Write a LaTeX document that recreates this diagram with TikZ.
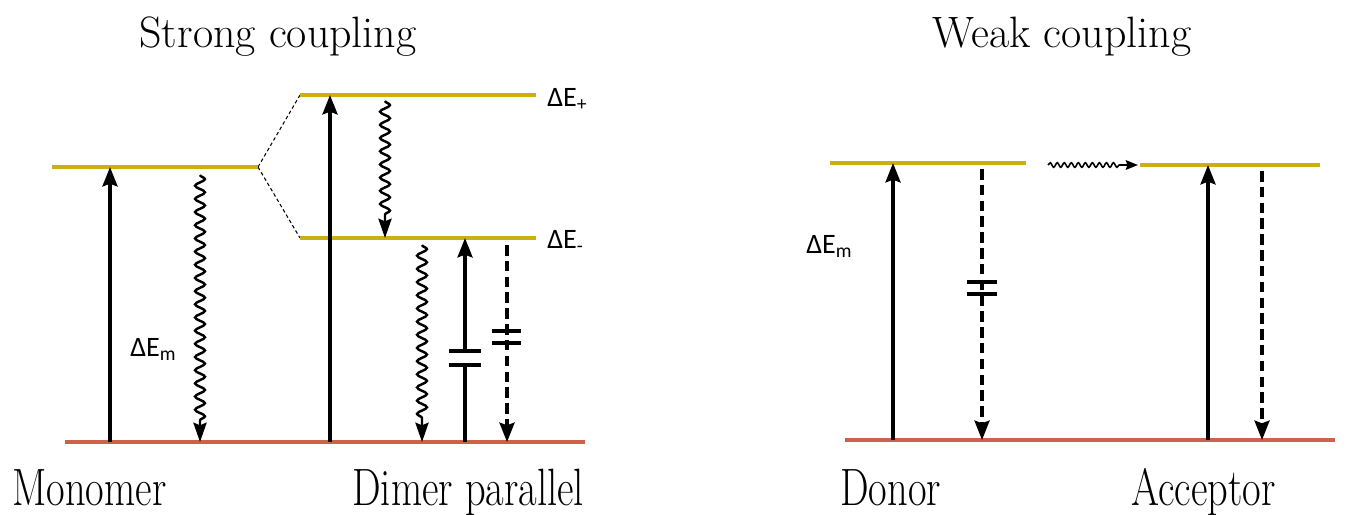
\documentclass[tikz,border=0pt]{standalone}
\usepackage{fontspec}
\newfontfamily\deltafont{Carlito}
\usetikzlibrary{arrows.meta, decorations.pathmorphing}

\definecolor{levelgold}{RGB}{204,176,18}
\definecolor{groundred}{RGB}{206,96,76}
\newcommand{\tallname}[1]{\scalebox{1}[1.3]{#1}}

\tikzset{
  level/.style={levelgold, line width=2.6pt},
  ground/.style={groundred, line width=2.6pt},
  absorb/.style={line width=2pt, -{Stealth[length=11pt, width=8.5pt, inset=1.5pt]}},
  relax/.style={line width=1.4pt, -{Stealth[length=11pt, width=7.5pt, inset=1.5pt]},
    decorate, decoration={snake, segment length=7.5pt, amplitude=2.8pt, post length=11pt}},
  transfer/.style={line width=0.9pt, -{Stealth[length=7pt, width=5.5pt, inset=1pt]},
    decorate, decoration={snake, segment length=4pt, amplitude=1.3pt, post length=9pt}},
  emit/.style={line width=2pt, dash pattern=on 6pt off 3pt, -{Stealth[length=11pt, width=8.5pt, inset=1.5pt]}},
  split/.style={line width=0.6pt, dash pattern=on 2pt off 1.5pt},
  forbid/.style={line width=2.6pt},
  heading/.style={font=\fontsize{25}{30}\selectfont, anchor=base},
  molname/.style={font=\fontsize{23}{28}\selectfont, anchor=base west, inner sep=0pt},
  delta/.style={font=\deltafont\fontsize{16}{18}\selectfont, anchor=base west, inner sep=0pt}
}

\begin{document}
\begin{tikzpicture}[x=0.02cm, y=-0.02cm]
  \useasboundingbox (0,0) rectangle (1345,514);

  %titles
  \node[heading] (strong) at (278,47) {Strong coupling};
  \node[heading] (weak) at (1062,47) {Weak coupling};

  %levels
  \coordinate (mono-l) at (52,167);   \coordinate (mono-r) at (258,167);
  \coordinate (plus-l) at (300,95);   \coordinate (plus-r) at (536,95);
  \coordinate (minus-l) at (300,238); \coordinate (minus-r) at (536,238);
  \coordinate (don-l) at (830,163);   \coordinate (don-r) at (1026,163);
  \coordinate (acc-l) at (1140,165);  \coordinate (acc-r) at (1320,165);
  \coordinate (gs1-l) at (65,442);    \coordinate (gs1-r) at (585,442);
  \coordinate (gs2-l) at (845,440);   \coordinate (gs2-r) at (1335,440);

  \draw[split] (mono-r) -- (plus-l);
  \draw[split] (mono-r) -- (minus-l);
  \draw[level] (mono-l) -- (mono-r);
  \draw[level] (plus-l) -- (plus-r);
  \draw[level] (minus-l) -- (minus-r);
  \draw[level] (don-l) -- (don-r);
  \draw[level] (acc-l) -- (acc-r);
  \draw[ground] (gs1-l) -- (gs1-r);
  \draw[ground] (gs2-l) -- (gs2-r);

  %monomer
  \draw[absorb] (110,0 |- gs1-l) -- (110,0 |- mono-l);
  \draw[relax] (200,175) -- (200,0 |- gs1-l);

  %dimer
  \draw[absorb] (330,0 |- gs1-l) -- (330,0 |- plus-l);
  \draw[relax] (385,101) -- (385,0 |- minus-l);
  \draw[relax] (422,245) -- (422,0 |- gs1-l);
  \draw[line width=2pt] (465,0 |- gs1-l) -- (465,365);
  \draw[absorb] (465,351) -- (465,0 |- minus-l);
  \draw[forbid] (449,351) -- (481,351);
  \draw[forbid] (449,365) -- (481,365);
  \draw[emit] (507,245) -- (507,0 |- gs1-l);
  \foreach \y in {331,343}
    \draw[forbid] (492,\y) -- (521,\y);

  %donor / acceptor
  \draw[absorb] (893,0 |- gs2-l) -- (893,0 |- don-l);
  \draw[emit] (982,169) -- (982,0 |- gs2-l);
  \foreach \y in {282,294}
    \draw[forbid] (967,\y) -- (997,\y);
  \draw[absorb] (1208,0 |- gs2-l) -- (1208,0 |- acc-l);
  \draw[emit] (1262,171) -- (1262,0 |- gs2-l);
  \coordinate (et-a) at (1048,165);
  \coordinate (et-b) at (1138,165);
  \draw[transfer] (et-a) -- (et-b);

  %energy labels
  \node[delta] (dplus) at (547,106) {ΔE\textsubscript{+}};
  \node[delta] (dminus) at (547,248) {ΔE\textsubscript{-}};
  \node[delta] (dmono) at (130,356) {ΔE\textsubscript{m}};
  \node[delta] (ddon) at (806,253) {ΔE\textsubscript{m}};

  %names
  \node[molname] (mono) at (12,505) {\tallname{Monomer}};
  \node[molname] (dimer) at (352,505) {\tallname{Dimer parallel}};
  \node[molname] (donor) at (840,505) {\tallname{Donor}};
  \node[molname] (acceptor) at (1131,505) {\tallname{Acceptor}};
\end{tikzpicture}
\end{document}
